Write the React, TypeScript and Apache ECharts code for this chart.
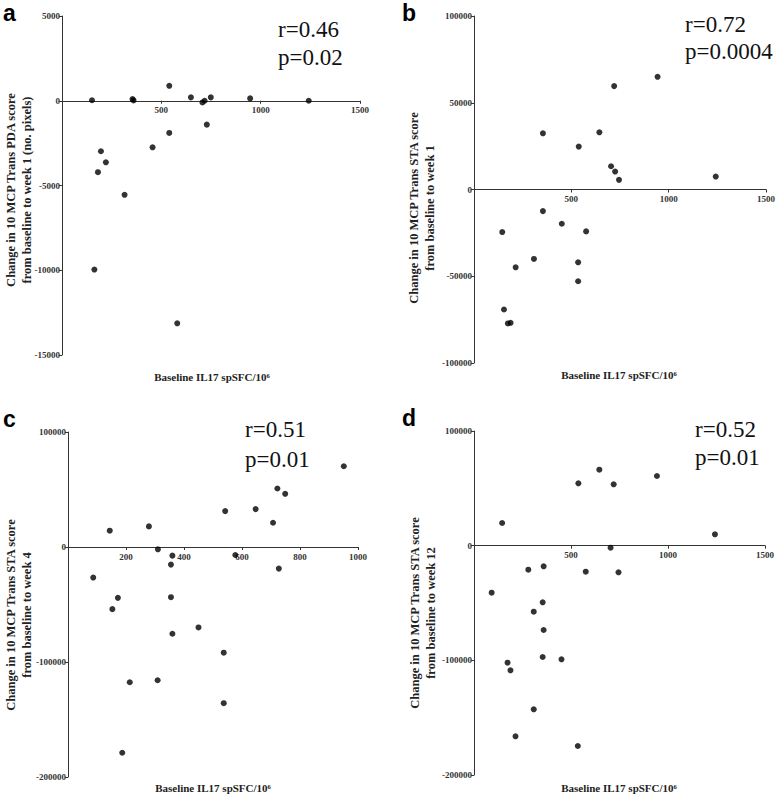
import React, { useEffect, useRef } from "react";
import * as echarts from "echarts";

// Panel a: change in 10 MCP Trans PDA score, baseline to week 1
const aX = [151, 355, 360, 540, 649, 707, 718, 749, 947, 1242, 729, 540, 456, 196, 221, 181, 315, 163, 580];
const aY = [30, 100, 20, 880, 200, -100, 0, 200, 140, 0, -1410, -1900, -2745, -2980, -3630, -4215, -5550, -9960, -13130];

// Panel b: change in 10 MCP Trans STA score, baseline to week 1
const bX = [943, 720, 354, 644, 538, 704, 725, 745, 1242, 354, 451, 576, 145, 308, 535, 214, 535, 154, 174, 188];
const bY = [64950, 59590, 32380, 32950, 24720, 13410, 10350, 5560, 7470, -12450, -19730, -24140, -24520, -40040, -41960, -44830, -52880, -69170, -77210, -76830];

// Panel c: change in 10 MCP Trans STA score, baseline to week 4
const cX = [951, 722, 749, 542, 647, 707, 279, 144, 310, 360, 577, 355, 727, 87, 172, 355, 153, 450, 360, 537, 213, 309, 537, 187];
const cY = [70230, 50860, 46240, 31210, 32950, 21100, 17920, 14160, -2020, -7510, -6940, -15320, -18790, -26590, -44220, -43640, -54040, -69940, -75430, -91900, -117620, -115890, -135830, -178890];

// Panel d: change in 10 MCP Trans STA score, baseline to week 12
const dX = [646, 538, 720, 943, 145, 1242, 704, 280, 359, 576, 745, 91, 354, 308, 359, 354, 451, 173, 188, 308, 214, 535];
const dY = [66280, 54360, 53490, 60760, 19770, 9880, -1740, -20930, -18020, -22670, -23260, -40990, -49420, -57560, -73550, -97090, -99130, -102040, -108720, -142730, -166280, -174710];

const panelLetters = ["a", "b", "c", "d"];
const rTexts = ["r=0.46", "r=0.72", "r=0.51", "r=0.52"];
const pTexts = ["p=0.02", "p=0.0004", "p=0.01", "p=0.01"];
const yNames = [
  "Change in 10 MCP Trans PDA score\nfrom baseline to week 1 (no. pixels)",
  "Change in 10 MCP Trans STA score\nfrom baseline to week 1",
  "Change in 10 MCP Trans STA score\nfrom baseline to week 4",
  "Change in 10 MCP Trans STA score\nfrom baseline to week 12",
];
const xName = "Baseline IL17 spSFC/10⁶";

const yMin = [-15000, -100000, -200000, -200000];
const yMax = [5000, 100000, 100000, 100000];
const yInt = [5000, 50000, 100000, 100000];
const xMax = [1500, 1500, 1000, 1500];
const xInt = [500, 500, 200, 500];

export default function App() {
  const ref = useRef<HTMLDivElement>(null);
  useEffect(() => {
    if (!ref.current) return;
    const chart = echarts.init(ref.current, null, { renderer: "svg" });
    const serif = "'Liberation Serif', 'Times New Roman', serif";
    const axisColor = "#333";
    const grids = [
      { left: 62, top: 16, width: 298, height: 339 },
      { left: 474, top: 16, width: 292, height: 347 },
      { left: 68, top: 432, width: 290, height: 345 },
      { left: 474, top: 431, width: 291, height: 344 },
    ];
    const datas = [
      aX.map((x, i) => [x, aY[i]]),
      bX.map((x, i) => [x, bY[i]]),
      cX.map((x, i) => [x, cY[i]]),
      dX.map((x, i) => [x, dY[i]]),
    ];
    const letterPos = [
      [3, 13],
      [402, 13],
      [3, 419],
      [402, 418],
    ];
    const statPos = [
      [278, 29, 57],
      [685, 24, 51],
      [245, 429, 459],
      [695, 429, 457],
    ];
    const yNamePos = [
      [19, 190],
      [422, 208],
      [19, 615],
      [423, 613],
    ];
    const xNamePos = [
      [212, 377],
      [619, 375],
      [213, 788],
      [619, 788],
    ];
    const graphic: any[] = [];
    for (let i = 0; i < 4; i++) {
      graphic.push({
        type: "text",
        x: letterPos[i][0],
        y: letterPos[i][1],
        style: {
          text: panelLetters[i],
          font: "bold 23px 'Liberation Sans', Arial, sans-serif",
          fill: "#000",
          textAlign: "left",
          textVerticalAlign: "middle",
        },
      });
      graphic.push({
        type: "text",
        x: statPos[i][0],
        y: statPos[i][1],
        style: {
          text: rTexts[i],
          font: `23px ${serif}`,
          fill: "#111",
          textAlign: "left",
          textVerticalAlign: "middle",
        },
      });
      graphic.push({
        type: "text",
        x: statPos[i][0],
        y: statPos[i][2],
        style: {
          text: pTexts[i],
          font: `23px ${serif}`,
          fill: "#111",
          textAlign: "left",
          textVerticalAlign: "middle",
        },
      });
      graphic.push({
        type: "text",
        x: yNamePos[i][0],
        y: yNamePos[i][1],
        rotation: Math.PI / 2,
        style: {
          text: yNames[i],
          font: `bold 12.5px ${serif}`,
          lineHeight: 16,
          fill: "#222",
          textAlign: "center",
          textVerticalAlign: "middle",
        },
      });
      graphic.push({
        type: "text",
        x: xNamePos[i][0],
        y: xNamePos[i][1],
        style: {
          text: xName,
          font: `bold 11px ${serif}`,
          fill: "#222",
          textAlign: "center",
          textVerticalAlign: "middle",
        },
      });
    }

    chart.setOption({
      animation: false,
      backgroundColor: "#fff",
      grid: grids,
      xAxis: grids.map((g, i) => ({
        type: "value",
        gridIndex: i,
        position: "bottom",
        // place the x axis (line, ticks and labels) on y = 0
        offset: -(g.height * (0 - yMin[i])) / (yMax[i] - yMin[i]),
        min: 0,
        max: xMax[i],
        interval: xInt[i],
        splitLine: { show: false },
        axisLine: { onZero: false, lineStyle: { color: axisColor, width: 1 } },
        axisTick: { show: true, inside: false, length: 3, lineStyle: { color: axisColor } },
        axisLabel: {
          margin: 5,
          fontFamily: serif,
          fontWeight: "bold",
          fontSize: 9,
          color: "#333",
          formatter: (v: number) => (v === 0 ? "" : String(v)),
        },
      })),
      yAxis: grids.map((_, i) => ({
        type: "value",
        gridIndex: i,
        min: yMin[i],
        max: yMax[i],
        interval: yInt[i],
        splitLine: { show: false },
        axisLine: { show: true, onZero: false, lineStyle: { color: axisColor, width: 1 } },
        axisTick: { show: true, inside: false, length: 3, lineStyle: { color: axisColor } },
        axisLabel: {
          margin: 2,
          fontFamily: serif,
          fontWeight: "bold",
          fontSize: 9,
          color: "#333",
          formatter: (v: number) => String(v),
        },
      })),
      series: datas.map((d, i) => ({
        type: "scatter",
        xAxisIndex: i,
        yAxisIndex: i,
        data: d,
        symbol: "circle",
        symbolSize: 6,
        itemStyle: { color: "#000" },
      })),
      graphic,
    });
    return () => chart.dispose();
  }, []);
  return (
    <div
      ref={ref}
      style={{ position: "absolute", left: 0, top: 0, width: 778, height: 799 }}
    />
  );
}
